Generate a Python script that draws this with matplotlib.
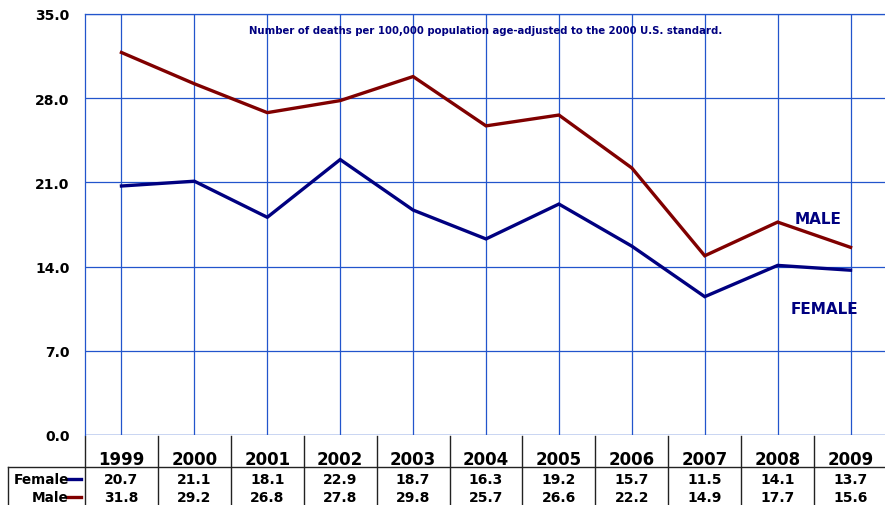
import matplotlib
matplotlib.use("Agg")
import matplotlib.pyplot as plt
from matplotlib.lines import Line2D

years = ["1999", "2000", "2001", "2002", "2003", "2004", "2005", "2006", "2007", "2008", "2009"]
female = [20.7, 21.1, 18.1, 22.9, 18.7, 16.3, 19.2, 15.7, 11.5, 14.1, 13.7]
male = [31.8, 29.2, 26.8, 27.8, 29.8, 25.7, 26.6, 22.2, 14.9, 17.7, 15.6]
yticks = [0.0, 7.0, 14.0, 21.0, 28.0, 35.0]
title = "Number of deaths per 100,000 population age-adjusted to the 2000 U.S. standard."

plt.rcParams['font.family'] = ['DejaVu Sans']
NAVY = "#000080"
MAROON = "#800000"
GRID = "#2255cc"

fig = plt.figure(figsize=(8.85, 5.06), dpi=100)
W, H = 885, 506
ax = fig.add_axes([85 / W, 1 - 436 / H, 802 / W, 421 / H])
x = list(range(len(years)))

ax.plot(x, male, color=MAROON, lw=2.4, solid_joinstyle='miter', zorder=3)
ax.plot(x, female, color=NAVY, lw=2.4, solid_joinstyle='miter', zorder=3)

ax.set_xlim(-0.5, len(years) - 0.5)
ax.set_ylim(0, 35)
ax.set_yticks(yticks)
ax.set_yticklabels([f"{v:.1f}" for v in yticks], fontsize=10, fontweight='bold')
ax.tick_params(axis='y', length=0, pad=11)
ax.set_xticks(x)
ax.set_xticklabels([])
ax.tick_params(axis='x', length=0)
ax.grid(True, color=GRID, lw=0.9)
for s in ['right', 'bottom']:
    ax.spines[s].set_visible(False)
for s in ['left', 'top']:
    ax.spines[s].set_color(GRID)
    ax.spines[s].set_linewidth(0.9)
ax.axhline(0, color=GRID, lw=0.9)

ax.text(0.5, 0.962, title, transform=ax.transAxes, ha='center', va='center',
        fontsize=7.3, fontweight='bold', color=NAVY)
ax.text(9.55, 18.0, "MALE", ha='center', va='center', fontsize=11,
        fontweight='bold', color=NAVY)
ax.text(9.64, 10.5, "FEMALE", ha='center', va='center', fontsize=11,
        fontweight='bold', color=NAVY)

# table below axes
tr = ax.get_xaxis_transform()
def ay(py):
    return -(py - 436) / 421.0

y_hdr, y_f, y_m = ay(460), ay(480), ay(498)
for i, yr in enumerate(years):
    ax.text(i, y_hdr, yr, transform=tr, ha='center', va='center', fontsize=12,
            fontweight='bold', clip_on=False)
    ax.text(i, y_f, f"{female[i]:.1f}", transform=tr, ha='center', va='center',
            fontsize=10, fontweight='bold', clip_on=False)
    ax.text(i, y_m, f"{male[i]:.1f}", transform=tr, ha='center', va='center',
            fontsize=10, fontweight='bold', clip_on=False)

lc = "#222222"
for i in range(len(years)):
    xb = i - 0.5
    ax.add_line(Line2D([xb, xb], [ay(437), ay(507)], transform=tr, color=lc,
                       lw=1.0, clip_on=False))
xl = -0.5 - 77 / 72.9
ax.add_line(Line2D([xl, len(years) - 0.5], [ay(468), ay(468)], transform=tr,
                   color=lc, lw=1.0, clip_on=False))
ax.add_line(Line2D([xl, xl], [ay(468), ay(507)], transform=tr, color=lc,
                   lw=1.0, clip_on=False))

xr = -0.5 - 16 / 72.9
ax.text(xr, y_f, "Female", transform=tr, ha='right', va='center', fontsize=9.8,
        fontweight='bold', clip_on=False)
ax.text(xr, y_m, "Male", transform=tr, ha='right', va='center', fontsize=9.8,
        fontweight='bold', clip_on=False)
xs0, xs1 = -0.5 - 18 / 72.9, -0.5 - 4 / 72.9
ax.add_line(Line2D([xs0, xs1], [y_f, y_f], transform=tr, color=NAVY, lw=2.4,
                   clip_on=False))
ax.add_line(Line2D([xs0, xs1], [y_m, y_m], transform=tr, color=MAROON, lw=2.4,
                   clip_on=False))

fig.savefig("out.png", dpi=100)
